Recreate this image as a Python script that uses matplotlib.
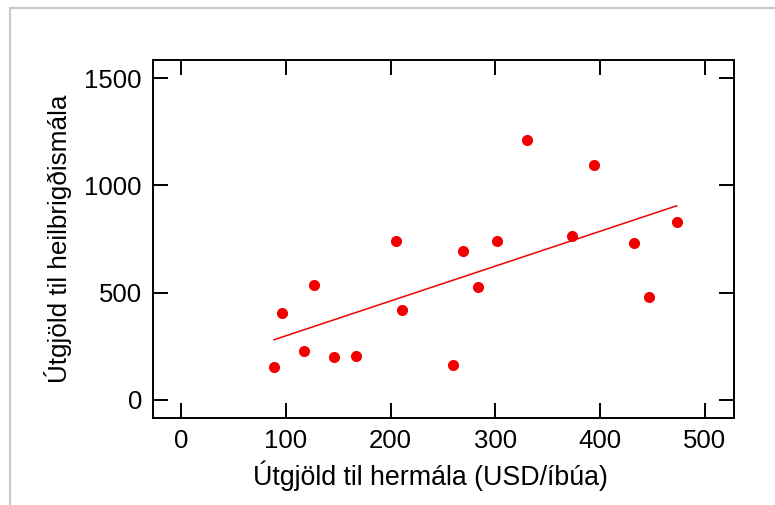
import numpy as np
import matplotlib
matplotlib.use("Agg")
import matplotlib.pyplot as plt
from matplotlib.lines import Line2D

# Data
military = [88.6, 96, 117.6, 127.2, 146, 167, 205.2, 210.6, 260, 269.2,
            283.5, 301.3, 330.7, 373.3, 394.3, 432.5, 446.8, 473.3]
health = [152, 406, 227, 535, 199, 204, 740, 420, 162, 695,
          527, 740, 1211, 765, 1095, 731, 480, 827]
x_ticks = [0, 100, 200, 300, 400, 500]
y_ticks = [0, 500, 1000, 1500]
x_label = "Útgjöld til hermála (USD/íbúa)"
y_label = "Útgjöld til heilbrigðismála"

plt.rcParams['font.family'] = ['Liberation Sans', 'DejaVu Sans']

fig = plt.figure(figsize=(7.75, 5.05), dpi=100)
ax = fig.add_axes([153/775, 1-418/505, (734-153)/775, (418-60)/505])

red = '#f00000'
ax.plot(military, health, 'o', color=red, markersize=8, markeredgewidth=0)

xs = np.array(military)
coef = np.polyfit(xs, np.array(health), 1)
xl = np.array([xs.min(), xs.max()])
ax.plot(xl, np.polyval(coef, xl), color=red, lw=1.1)

ax.set_xlim(-27, 528)
ax.set_ylim(-85, 1584)
ax.set_xticks(x_ticks)
ax.set_yticks(y_ticks)
ax.tick_params(direction='in', length=10.5, width=1.4, top=True, right=True,
               labelsize=18.5, pad=8, colors='black')
for s in ax.spines.values():
    s.set_linewidth(1.4)

ax.set_xlabel(x_label, fontsize=19.3)
ax.xaxis.set_label_coords((430 - 153) / 581, -0.12, transform=ax.transAxes)
ax.xaxis.label.set_verticalalignment('top')
ax.set_ylabel(y_label, fontsize=18.8, labelpad=9)

# light gray frame lines of the outer panel
fig.add_artist(Line2D([9.5/775, 1], [1-8/505, 1-8/505], transform=fig.transFigure,
                      color='#c8c8c8', lw=1.5))
fig.add_artist(Line2D([9.5/775, 9.5/775], [0, 1-8/505], transform=fig.transFigure,
                      color='#c8c8c8', lw=1.5))

fig.savefig("out.png", dpi=100)
